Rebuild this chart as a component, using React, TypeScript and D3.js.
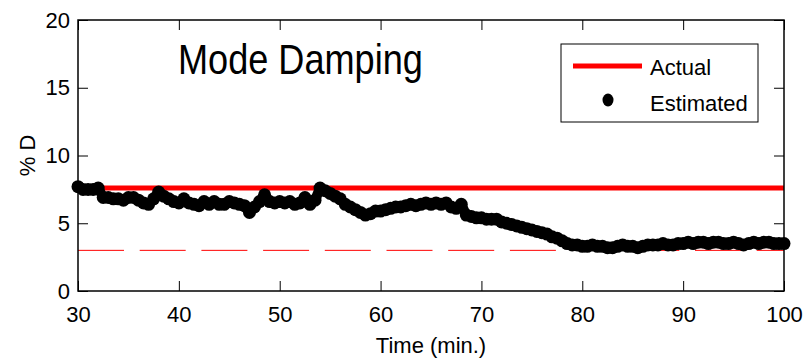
import * as d3 from 'd3';
import * as React from 'react';

// sample times (min.) of the estimated damping points
const times = [
  30, 30.5, 31, 31.5, 32, 32.5, 33, 33.5, 34, 34.5, 35, 35.5, 36, 36.5, 37, 37.5, 38, 38.5, 39, 39.5,
  40, 40.5, 41, 41.5, 42, 42.5, 43, 43.5, 44, 44.5, 45, 45.5, 46, 46.5, 47, 47.5, 48, 48.5, 49, 49.5,
  50, 50.5, 51, 51.5, 52, 52.5, 53, 53.5, 54, 54.5, 55, 55.5, 56, 56.5, 57, 57.5, 58, 58.5, 59, 59.5,
  60, 60.5, 61, 61.5, 62, 62.5, 63, 63.5, 64, 64.5, 65, 65.5, 66, 66.5, 67, 67.5, 68, 68.5, 69, 69.5,
  70, 70.5, 71, 71.5, 72, 72.5, 73, 73.5, 74, 74.5, 75, 75.5, 76, 76.5, 77, 77.5, 78, 78.5, 79, 79.5,
  80, 80.5, 81, 81.5, 82, 82.5, 83, 83.5, 84, 84.5, 85, 85.5, 86, 86.5, 87, 87.5, 88, 88.5, 89, 89.5,
  90, 90.5, 91, 91.5, 92, 92.5, 93, 93.5, 94, 94.5, 95, 95.5, 96, 96.5, 97, 97.5, 98, 98.5, 99, 99.5,
  100,
];

// estimated % damping
const estimated = [
  7.7, 7.5, 7.5, 7.5, 7.6, 6.9, 6.9, 6.8, 6.8, 6.7, 6.9, 6.9, 6.7, 6.5, 6.4, 6.8, 7.3, 7.0, 6.8, 6.6,
  6.5, 6.8, 6.5, 6.4, 6.3, 6.6, 6.4, 6.6, 6.4, 6.4, 6.6, 6.5, 6.4, 6.3, 5.8, 6.2, 6.6, 7.1, 6.6, 6.5,
  6.6, 6.5, 6.6, 6.4, 6.5, 6.9, 6.4, 6.7, 7.6, 7.4, 7.2, 7.0, 6.8, 6.4, 6.2, 6.0, 5.8, 5.6, 5.7, 5.9,
  5.9, 6.0, 6.1, 6.2, 6.2, 6.3, 6.4, 6.3, 6.4, 6.5, 6.4, 6.5, 6.4, 6.5, 6.2, 6.1, 6.4, 5.6, 5.5, 5.4,
  5.4, 5.3, 5.3, 5.3, 5.1, 5.0, 4.9, 4.8, 4.7, 4.6, 4.5, 4.4, 4.3, 4.2, 4.0, 3.9, 3.7, 3.5, 3.4, 3.4,
  3.3, 3.3, 3.4, 3.3, 3.3, 3.2, 3.2, 3.3, 3.4, 3.3, 3.3, 3.2, 3.3, 3.4, 3.4, 3.4, 3.5, 3.4, 3.4, 3.5,
  3.5, 3.6, 3.5, 3.6, 3.6, 3.5, 3.6, 3.6, 3.5, 3.5, 3.6, 3.5, 3.4, 3.5, 3.6, 3.5, 3.6, 3.6, 3.5, 3.5,
  3.5,
];

const actualDamping = 7.6;
const thresholdDamping = 3;

const xTicks = [30, 40, 50, 60, 70, 80, 90, 100];
const yTicks = [0, 5, 10, 15, 20];

const FONT = '"Liberation Sans", Arial, Helvetica, sans-serif';

const App = () => {
  const ref = React.useRef<SVGSVGElement | null>(null);

  React.useEffect(() => {
    if (!ref.current) return;
    const width = 804;
    const height = 361;
    const margin = { top: 20, right: 20, bottom: 70, left: 78 };
    const x0 = margin.left;
    const x1 = width - margin.right;
    const y0 = margin.top;
    const y1 = height - margin.bottom;

    const svg = d3.select(ref.current);
    svg.selectAll('*').remove();
    svg.attr('width', width).attr('height', height);

    svg.append('rect').attr('width', width).attr('height', height).attr('fill', '#fff');

    const x = d3.scaleLinear().domain([30, 100]).range([x0, x1]);
    const y = d3.scaleLinear().domain([0, 20]).range([y1, y0]);

    // reference lines
    svg
      .append('line')
      .attr('x1', x(30))
      .attr('x2', x(100))
      .attr('y1', y(thresholdDamping))
      .attr('y2', y(thresholdDamping))
      .attr('stroke', '#ff0000')
      .attr('stroke-width', 1)
      .attr('stroke-dasharray', '46 15.7');

    svg
      .append('line')
      .attr('x1', x(30))
      .attr('x2', x(100))
      .attr('y1', y(actualDamping))
      .attr('y2', y(actualDamping))
      .attr('stroke', '#ff0000')
      .attr('stroke-width', 5);

    // estimated points: thick connecting trace plus dot markers
    const trace = d3
      .line<number>()
      .x((d) => x(d))
      .y((d, i) => y(estimated[i]));
    svg
      .append('path')
      .datum(times)
      .attr('d', trace)
      .attr('fill', 'none')
      .attr('stroke', '#000')
      .attr('stroke-width', 10)
      .attr('stroke-linejoin', 'round');

    svg
      .append('g')
      .selectAll('circle')
      .data(times)
      .enter()
      .append('circle')
      .attr('cx', (d) => x(d))
      .attr('cy', (d, i) => y(estimated[i]))
      .attr('r', 6.5)
      .attr('fill', '#000');

    // axes, MATLAB-style box with inward ticks
    const styleAxis = (g) => {
      g.select('.domain').remove();
      g.selectAll('.tick line').attr('stroke', '#000').attr('stroke-width', 1);
      g.selectAll('.tick text').attr('fill', '#000').style('font-family', FONT).style('font-size', '22px');
    };

    svg
      .append('g')
      .attr('transform', `translate(0,${y1})`)
      .call(d3.axisBottom(x).tickValues(xTicks).tickSize(-10).tickPadding(15))
      .call(styleAxis);
    svg
      .append('g')
      .attr('transform', `translate(0,${y0})`)
      .call(d3.axisTop(x).tickValues(xTicks).tickSize(-10).tickFormat(() => ''))
      .call(styleAxis);
    svg
      .append('g')
      .attr('transform', `translate(${x0},0)`)
      .call(d3.axisLeft(y).tickValues(yTicks).tickSize(-10).tickPadding(8))
      .call(styleAxis);
    svg
      .append('g')
      .attr('transform', `translate(${x1},0)`)
      .call(d3.axisRight(y).tickValues(yTicks).tickSize(-10).tickFormat(() => ''))
      .call(styleAxis);

    svg
      .append('rect')
      .attr('x', x0)
      .attr('y', y0)
      .attr('width', x1 - x0)
      .attr('height', y1 - y0)
      .attr('fill', 'none')
      .attr('stroke', '#000')
      .attr('stroke-width', 1.5);

    // axis titles
    svg
      .append('text')
      .attr('x', (x0 + x1) / 2)
      .attr('y', 353)
      .attr('text-anchor', 'middle')
      .style('font-family', FONT)
      .style('font-size', '22px')
      .text('Time (min.)');

    svg
      .append('text')
      .attr('transform', `translate(35,${(y0 + y1) / 2}) rotate(-90)`)
      .attr('text-anchor', 'middle')
      .style('font-family', FONT)
      .style('font-size', '22px')
      .text('% D');

    // title inside the axes
    svg
      .append('text')
      .attr('transform', 'translate(178,74) scale(0.86,1)')
      .style('font-family', FONT)
      .style('font-size', '42px')
      .text('Mode Damping');

    // legend
    const legend = svg.append('g');
    legend
      .append('rect')
      .attr('x', 561)
      .attr('y', 44)
      .attr('width', 197)
      .attr('height', 78)
      .attr('fill', '#fff')
      .attr('stroke', '#000')
      .attr('stroke-width', 1);
    legend
      .append('line')
      .attr('x1', 573)
      .attr('x2', 642)
      .attr('y1', 66)
      .attr('y2', 66)
      .attr('stroke', '#ff0000')
      .attr('stroke-width', 5);
    legend.append('ellipse').attr('cx', 608).attr('cy', 100).attr('rx', 5.5).attr('ry', 6.5).attr('fill', '#000');
    legend
      .append('text')
      .attr('x', 650)
      .attr('y', 75)
      .style('font-family', FONT)
      .style('font-size', '22px')
      .text('Actual');
    legend
      .append('text')
      .attr('x', 650)
      .attr('y', 111)
      .style('font-family', FONT)
      .style('font-size', '22px')
      .text('Estimated');
  }, []);

  return <svg ref={ref} style={{ position: 'absolute', left: 0, top: 0, display: 'block' }} />;
};

export default App;
